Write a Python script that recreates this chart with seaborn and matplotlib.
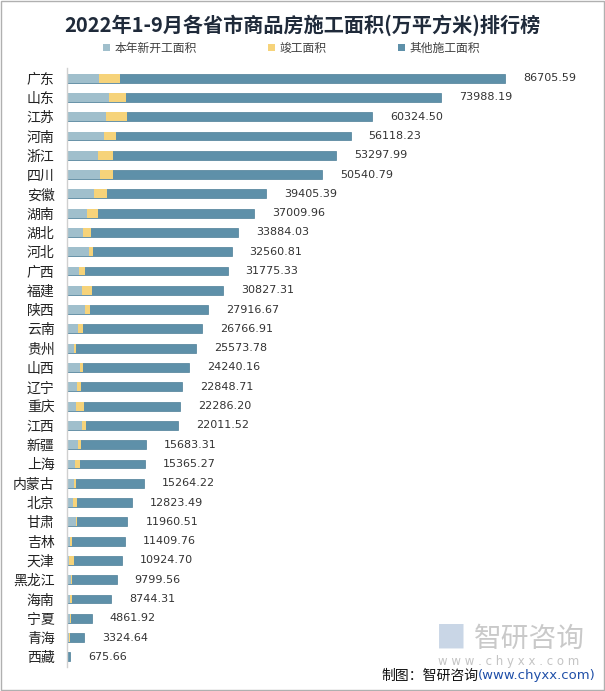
import pandas as pd
import seaborn as sns
import matplotlib.pyplot as plt
from matplotlib.patches import Patch, Rectangle

provinces = ["广东", "山东", "江苏", "河南", "浙江", "四川", "安徽", "湖南", "湖北", "河北",
             "广西", "福建", "陕西", "云南", "贵州", "山西", "辽宁", "重庆", "江西", "新疆",
             "上海", "内蒙古", "北京", "甘肃", "吉林", "天津", "黑龙江", "海南", "宁夏", "青海", "西藏"]
totals = [86705.59, 73988.19, 60324.50, 56118.23, 53297.99, 50540.79, 39405.39, 37009.96, 33884.03, 32560.81,
          31775.33, 30827.31, 27916.67, 26766.91, 25573.78, 24240.16, 22848.71, 22286.20, 22011.52, 15683.31,
          15365.27, 15264.22, 12823.49, 11960.51, 11409.76, 10924.70, 9799.56, 8744.31, 4861.92, 3324.64, 675.66]
# 本年新开工面积 (估读)
new_start = [6400, 8370, 7780, 7380, 6130, 6600, 5400, 4020, 3230, 4410,
             2440, 3030, 3620, 2240, 1450, 2640, 2040, 1840, 3030, 2240,
             1650, 1450, 1250, 1840, 650, 460, 850, 650, 650, 460, 50]
# 竣工面积 (估读)
completed = [4150, 3360, 4160, 2375, 3030, 2570, 2570, 2180, 1580, 790,
             1190, 1980, 990, 990, 400, 590, 790, 1580, 790, 590,
             990, 400, 790, 200, 400, 990, 200, 400, 200, 50, 20]

series_names = ["本年新开工面积", "竣工面积", "其他施工面积"]
colors = ["#a0bfcc", "#f6d37a", "#5e90a9"]

df = pd.DataFrame({"省份": provinces, "合计": totals,
                   "新开工": new_start, "竣工": completed})
df["新开工+竣工"] = df["新开工"] + df["竣工"]

sns.set_theme(style="white")
plt.rcParams["font.family"] = ["Noto Sans CJK SC", "DejaVu Sans"]

fig = plt.figure(figsize=(6.05, 6.91), dpi=100)
ax = fig.add_axes([67 / 605, 24.5 / 691, 533 / 605, 598 / 691])

# 叠加绘制: 总量 -> 新开工+竣工 -> 新开工
sns.barplot(data=df, x="合计", y="省份", color=colors[2], width=0.46,
            edgecolor="#4d7f98", linewidth=0.5, ax=ax, saturation=1)
sns.barplot(data=df, x="新开工+竣工", y="省份", color=colors[1], width=0.46,
            linewidth=0, ax=ax, saturation=1)
sns.barplot(data=df, x="新开工", y="省份", color=colors[0], width=0.46,
            linewidth=0, ax=ax, saturation=1)

ax.bar_label(ax.containers[0], labels=[f"{v:.2f}" for v in totals], padding=13,
             fontsize=8, color="#333333", family="DejaVu Sans")

ax.set_xlim(0, 105500)
ax.set_xlabel("")
ax.set_ylabel("")
ax.set_xticks([])
ax.tick_params(axis="y", length=0, pad=9, labelsize=10, labelcolor="#222222")
for side in ["top", "right", "bottom"]:
    ax.spines[side].set_visible(False)
ax.spines["left"].set_color("#d0d0d0")
ax.spines["left"].set_linewidth(1)

fig.text(0.5, 0.964, "2022年1-9月各省市商品房施工面积(万平方米)排行榜", ha="center", va="center",
         fontsize=14.5, fontweight="bold", color="#1f2a3a")

handles = [Patch(facecolor=c, edgecolor="none") for c in colors]
fig.legend(handles, series_names, loc="center", bbox_to_anchor=(0.482, 0.93), ncol=3,
           frameon=False, fontsize=8.5, handlelength=0.6, handleheight=0.6,
           columnspacing=6.0, handletextpad=0.4, labelcolor="#404040")

# 水印
fig.text(0.875, 0.075, "智研咨询", ha="center", va="center", fontsize=20,
         color="#c4c4c4", alpha=0.9)
fig.text(0.84, 0.042, "w w w . c h y x x . c o m", ha="center", va="center",
         fontsize=8.5, color="#c4c4c4", family="DejaVu Sans")
fig.text(0.745, 0.075, "\u25a0", ha="center", va="center", fontsize=22, color="#c9d6e6")

# 来源 (右对齐)
url = fig.text(0.985, 0.022, "(www.chyxx.com)", ha="right", va="center", fontsize=9.5,
               color="#1f4fa8", family="DejaVu Sans")
fig.canvas.draw()
bb = url.get_window_extent().transformed(fig.transFigure.inverted())
fig.text(bb.x0, 0.022, "制图：智研咨询", ha="right", va="center", fontsize=10, color="#111111")

fig.add_artist(Rectangle((0.001, 0.001), 0.997, 0.997, transform=fig.transFigure,
                         fill=False, edgecolor="#b0b0b0", linewidth=1))

fig.savefig("out.png", dpi=100)
